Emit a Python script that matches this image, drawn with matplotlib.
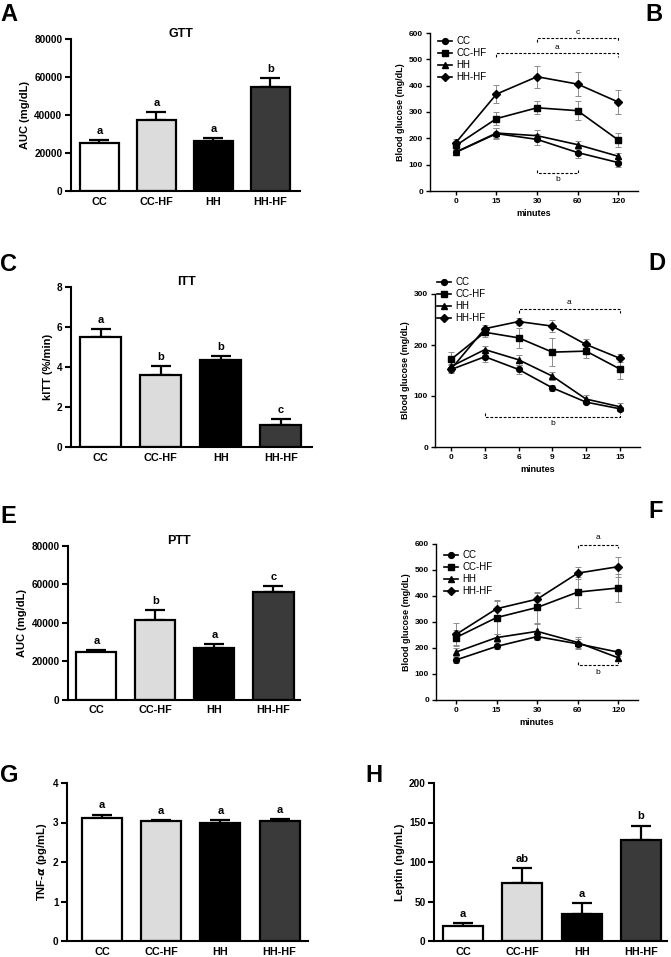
import matplotlib
matplotlib.use('Agg')
import matplotlib.pyplot as plt
import numpy as np

plt.rcParams['font.family'] = ['Liberation Sans', 'DejaVu Sans']
plt.rcParams['font.weight'] = 'bold'

# ---------------- data ----------------
groups = ['CC', 'CC-HF', 'HH', 'HH-HF']
bar_colors = ['white', '#dcdcdc', 'black', '#3a3a3a']

gtt_auc = [25500, 37500, 26500, 54500]
gtt_auc_err = [1300, 4200, 1200, 5000]
gtt_letters = ['a', 'a', 'a', 'b']

itt_k = [5.5, 3.6, 4.35, 1.1]
itt_k_err = [0.4, 0.45, 0.18, 0.3]
itt_letters = ['a', 'b', 'b', 'c']

ptt_auc = [25000, 41500, 27000, 56000]
ptt_auc_err = [800, 5300, 1700, 3000]
ptt_letters = ['a', 'b', 'a', 'c']

tnf = [3.12, 3.03, 3.00, 3.03]
tnf_err = [0.08, 0.04, 0.07, 0.05]
tnf_letters = ['a', 'a', 'a', 'a']

leptin = [19, 74, 34, 128]
leptin_err = [4, 18, 14, 18]
leptin_letters = ['a', 'ab', 'a', 'b']

series_names = ['CC', 'CC-HF', 'HH', 'HH-HF']
series_markers = ['o', 's', '^', 'D']

gtt_time = ['0', '15', '30', '60', '120']
gtt_cc = [147, 218, 196, 146, 108]
gtt_cc_err = [10, 20, 20, 20, 15]
gtt_cchf = [173, 275, 316, 305, 194]
gtt_cchf_err = [15, 25, 25, 35, 28]
gtt_hh = [148, 220, 210, 176, 132]
gtt_hh_err = [10, 20, 20, 15, 12]
gtt_hhhf = [184, 368, 434, 406, 338]
gtt_hhhf_err = [15, 33, 42, 47, 47]

itt_time = [0, 3, 6, 9, 12, 15]
itt_cc = [152, 177, 152, 116, 88, 75]
itt_cc_err = [5, 10, 9, 6, 4, 4]
itt_cchf = [172, 225, 214, 186, 188, 153]
itt_cchf_err = [15, 10, 20, 27, 13, 20]
itt_hh = [158, 191, 171, 139, 94, 79]
itt_hh_err = [5, 7, 10, 8, 8, 8]
itt_hhhf = [153, 232, 246, 237, 201, 174]
itt_hhhf_err = [8, 8, 6, 12, 10, 8]

ptt_time = ['0', '15', '30', '60', '120']
ptt_cc = [154, 206, 244, 216, 184]
ptt_cc_err = [10, 8, 12, 20, 8]
ptt_cchf = [240, 317, 356, 415, 431]
ptt_cchf_err = [30, 65, 60, 60, 55]
ptt_hh = [184, 240, 264, 221, 162]
ptt_hh_err = [15, 15, 30, 20, 8]
ptt_hhhf = [252, 351, 388, 488, 513]
ptt_hhhf_err = [45, 33, 25, 22, 38]

# ---------------- layout ----------------
W, H = 671, 957
fig = plt.figure(figsize=(W / 100, H / 100), dpi=100)


def add_ax(l, t, r, b):
    return fig.add_axes([l / W, 1 - b / H, (r - l) / W, (b - t) / H])


def style_bar_axis(ax):
    for s in ['top', 'right']:
        ax.spines[s].set_visible(False)
    for s in ['left', 'bottom']:
        ax.spines[s].set_linewidth(1.5)
    ax.tick_params(axis='both', width=1.5, length=4, labelsize=7.2, pad=2)
    ax.tick_params(axis='x', length=0, pad=4, labelsize=7.8)
    for lab in ax.get_xticklabels() + ax.get_yticklabels():
        lab.set_fontweight('bold')


def bar_panel(ax, vals, errs, letters, ylim, yticks, ylabel, xlim, width, title=None):
    x = np.arange(len(groups))
    ax.bar(x, vals, width=width, color=bar_colors, edgecolor='black', linewidth=1.6, zorder=2)
    ax.errorbar(x, vals, yerr=[np.zeros(len(vals)), errs], fmt='none', ecolor='black',
                elinewidth=1.6, capsize=7, capthick=1.6, zorder=1)
    for xi, v, e, l in zip(x, vals, errs, letters):
        ax.annotate(l, (xi, v + e), xytext=(0, 3), textcoords='offset points',
                    ha='center', va='bottom', fontsize=8, fontweight='bold')
    ax.set_xlim(*xlim)
    ax.set_ylim(*ylim)
    ax.set_yticks(yticks)
    ax.set_xticks(x)
    ax.set_xticklabels(groups)
    ax.set_ylabel(ylabel, fontsize=8, fontweight='bold', labelpad=3)
    style_bar_axis(ax)
    if title:
        ax.text(0.48, 1.03, title, transform=ax.transAxes, ha='center', va='center',
                fontsize=9, fontweight='bold')


def style_line_axis(ax):
    for s in ['top', 'right']:
        ax.spines[s].set_visible(False)
    for s in ['left', 'bottom']:
        ax.spines[s].set_linewidth(1.0)
    ax.tick_params(axis='both', width=1.0, length=3, labelsize=6, pad=2)
    for lab in ax.get_xticklabels() + ax.get_yticklabels():
        lab.set_fontweight('bold')


def line_panel(ax, xvals, ys, errs, xlim, ylim, yticks, xticklabels=None, legend_anchor=None):
    for y, e, m, name in zip(ys, errs, series_markers, series_names):
        ax.errorbar(xvals, y, yerr=e, fmt='none', ecolor='#8c8c8c', elinewidth=0.7,
                    capsize=2.5, capthick=0.7, zorder=1)
        ms = 3.6 if m == 'D' else 4.2
        ax.plot(xvals, y, color='black', lw=1.2, marker=m, ms=ms, mfc='black', mec='black',
                label=name, zorder=3)
    ax.set_xlim(*xlim)
    ax.set_ylim(*ylim)
    ax.set_yticks(yticks)
    ax.set_xticks(xvals)
    if xticklabels is not None:
        ax.set_xticklabels(xticklabels)
    ax.set_xlabel('minutes', fontsize=6.5, fontweight='bold', labelpad=3)
    ax.set_ylabel('Blood glucose (mg/dL)', fontsize=6.5, fontweight='bold', labelpad=3)
    style_line_axis(ax)
    leg = ax.legend(loc='upper left', bbox_to_anchor=legend_anchor, bbox_transform=fig.transFigure,
                    frameon=False, fontsize=7, handlelength=1.4, handletextpad=0.5,
                    labelspacing=0.22, borderpad=0, borderaxespad=0)
    for t in leg.get_texts():
        t.set_fontweight('normal')


def bracket(ax, x0, x1, y, tick, label, label_y):
    ax.plot([x0, x0, x1, x1], [y + tick, y, y, y + tick], color='black', lw=0.8,
            ls=(0, (2.5, 1.5)), clip_on=False)
    ax.text((x0 + x1) / 2, label_y, label, ha='center', va='center', fontsize=6,
            fontweight='normal', clip_on=False)


def panel_letter(x, y, s):
    fig.text(x / W, 1 - y / H, s, fontsize=17, fontweight='bold', ha='left', va='top')


# A
axA = add_ax(70.7, 39, 300, 191)
bar_panel(axA, gtt_auc, gtt_auc_err, gtt_letters, (0, 80000), np.arange(0, 80001, 20000),
          'AUC (mg/dL)', (-0.505, 3.52), 0.68, title='GTT')
panel_letter(0, 3, 'A')

# B
axB = add_ax(430, 33, 638, 191)
xB = np.arange(len(gtt_time))
line_panel(axB, xB, [gtt_cc, gtt_cchf, gtt_hh, gtt_hhhf],
           [gtt_cc_err, gtt_cchf_err, gtt_hh_err, gtt_hhhf_err],
           (-0.64, 4.49), (0, 600), np.arange(0, 601, 100), gtt_time,
           legend_anchor=(438 / W, 1 - 36 / H))
bracket(axB, 2, 4, 581, -14, 'c', 603)
bracket(axB, 1, 4, 524, -14, 'a', 545)
bracket(axB, 2, 3, 67, 12, 'b', 44)
panel_letter(645, 3, 'B')

# C
axC = add_ax(70.7, 287, 312, 447)
bar_panel(axC, itt_k, itt_k_err, itt_letters, (0, 8), np.arange(0, 9, 2),
          'kITT (%/min)', (-0.5, 3.52), 0.68, title='ITT')
panel_letter(0, 253, 'C')

# D
axD = add_ax(435, 294, 640, 447)
line_panel(axD, itt_time, [itt_cc, itt_cchf, itt_hh, itt_hhhf],
           [itt_cc_err, itt_cchf_err, itt_hh_err, itt_hhhf_err],
           (-1.44, 16.8), (0, 300), np.arange(0, 301, 100), None,
           legend_anchor=(437 / W, 1 - 277 / H))
bracket(axD, 6, 15, 270, -8, 'a', 284)
bracket(axD, 3, 15, 59, 7, 'b', 46)
panel_letter(648, 252, 'D')

# E
axE = add_ax(68, 546, 300, 699.6)
bar_panel(axE, ptt_auc, ptt_auc_err, ptt_letters, (0, 80000), np.arange(0, 80001, 20000),
          'AUC (mg/dL)', (-0.48, 3.45), 0.68, title='PTT')
panel_letter(0, 505, 'E')

# F
axF = add_ax(436, 544, 638, 700)
xF = np.arange(len(ptt_time))
line_panel(axF, xF, [ptt_cc, ptt_cchf, ptt_hh, ptt_hhhf],
           [ptt_cc_err, ptt_cchf_err, ptt_hh_err, ptt_hhhf_err],
           (-0.49, 4.48), (0, 600), np.arange(0, 601, 100), ptt_time,
           legend_anchor=(444 / W, 1 - 550 / H))
bracket(axF, 3, 4, 595, -12, 'a', 626)
bracket(axF, 3, 4, 135, 12, 'b', 105)
panel_letter(648, 500, 'F')

# G
axG = add_ax(67, 783, 308, 941)
bar_panel(axG, tnf, tnf_err, tnf_letters, (0, 4), np.arange(0, 5, 1),
          r'TNF-$\alpha$ (pg/mL)', (-0.59, 3.48), 0.675)
panel_letter(0, 764, 'G')

# H
axH = add_ax(434, 783, 667, 941)
bar_panel(axH, leptin, leptin_err, leptin_letters, (0, 200), np.arange(0, 201, 50),
          'Leptin (ng/mL)', (-0.49, 3.44), 0.675)
panel_letter(365, 764, 'H')

fig.savefig('out.png', dpi=100)
